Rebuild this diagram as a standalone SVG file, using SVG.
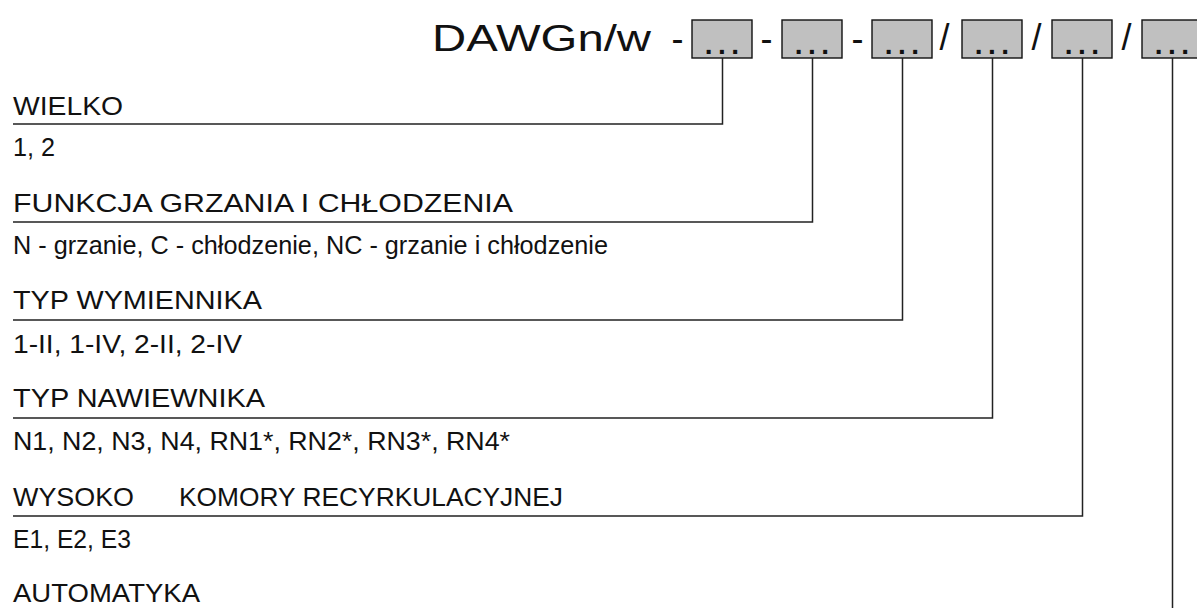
<svg xmlns="http://www.w3.org/2000/svg" width="1197" height="608" viewBox="0 0 1197 608">
<style>
.t{font-family:"Liberation Sans",Arial,sans-serif;font-size:26px;fill:#111}
.ti{font-family:"Liberation Sans",Arial,sans-serif;font-size:36px;fill:#111}
.box{fill:#c0c0c0;stroke:#111;stroke-width:1.4}
.dots{font-family:"Liberation Sans",Arial,sans-serif;font-size:28px;font-weight:bold;fill:#111;letter-spacing:5.5px}
.c{fill:none;stroke:#222;stroke-width:1.5}
</style>
<rect width="1197" height="608" fill="#fff"/>
<g id="title">
<text class="ti" x="432" y="50.5" textLength="219" lengthAdjust="spacingAndGlyphs">DAWGn/w</text>
<text class="ti" x="677.5" y="50.5" text-anchor="middle">-</text>
<text class="ti" x="766.5" y="50.5" text-anchor="middle">-</text>
<text class="ti" x="857.5" y="50.5" text-anchor="middle">-</text>
<text class="ti" x="944.5" y="50" text-anchor="middle">/</text>
<text class="ti" x="1036.5" y="50" text-anchor="middle">/</text>
<text class="ti" x="1126.5" y="50" text-anchor="middle">/</text>
</g>
<g id="box1"><rect class="box" x="692" y="20" width="60" height="38"/><text class="dots" x="704.8" y="53.7">...</text></g>
<g id="box2"><rect class="box" x="782" y="20" width="60" height="38"/><text class="dots" x="794.8" y="53.7">...</text></g>
<g id="box3"><rect class="box" x="872" y="20" width="60" height="38"/><text class="dots" x="884.8" y="53.7">...</text></g>
<g id="box4"><rect class="box" x="962" y="20" width="60" height="38"/><text class="dots" x="974.8" y="53.7">...</text></g>
<g id="box5"><rect class="box" x="1052" y="20" width="60" height="38"/><text class="dots" x="1064.8" y="53.7">...</text></g>
<g id="box6"><rect class="box" x="1142" y="20" width="60" height="38"/><text class="dots" x="1154.8" y="53.7">...</text></g>
<g id="connectors">
<path class="c" d="M722.5 58 V124 H13"/>
<path class="c" d="M812.5 58 V222 H13"/>
<path class="c" d="M902.5 58 V320 H13"/>
<path class="c" d="M992.5 58 V418 H13"/>
<path class="c" d="M1082.5 58 V516 H13"/>
<path class="c" d="M1172.5 58 V608"/>
</g>
<g id="sec1">
<text class="t" x="13" y="115" textLength="110" lengthAdjust="spacingAndGlyphs">WIELKO</text>
<text class="t" x="13" y="156" textLength="42" lengthAdjust="spacingAndGlyphs">1, 2</text>
</g>
<g id="sec2">
<text class="t" x="13" y="212" textLength="500" lengthAdjust="spacingAndGlyphs">FUNKCJA GRZANIA I CHŁODZENIA</text>
<text class="t" x="13" y="254" textLength="595" lengthAdjust="spacingAndGlyphs">N - grzanie, C - chłodzenie, NC - grzanie i chłodzenie</text>
</g>
<g id="sec3">
<text class="t" x="13" y="309" textLength="249" lengthAdjust="spacingAndGlyphs">TYP WYMIENNIKA</text>
<text class="t" x="13" y="353" textLength="229" lengthAdjust="spacingAndGlyphs">1-II, 1-IV, 2-II, 2-IV</text>
</g>
<g id="sec4">
<text class="t" x="13" y="407" textLength="252" lengthAdjust="spacingAndGlyphs">TYP NAWIEWNIKA</text>
<text class="t" x="13" y="450" textLength="497" lengthAdjust="spacingAndGlyphs">N1, N2, N3, N4, RN1*, RN2*, RN3*, RN4*</text>
</g>
<g id="sec5">
<text class="t" x="13" y="506" lengthAdjust="spacingAndGlyphs"><tspan textLength="121" lengthAdjust="spacingAndGlyphs">WYSOKO</tspan><tspan x="179" textLength="384" lengthAdjust="spacingAndGlyphs">KOMORY RECYRKULACYJNEJ</tspan></text>
<text class="t" x="13" y="548" textLength="118" lengthAdjust="spacingAndGlyphs">E1, E2, E3</text>
</g>
<g id="sec6">
<text class="t" x="13" y="602" textLength="187" lengthAdjust="spacingAndGlyphs">AUTOMATYKA</text>
</g>
</svg>
